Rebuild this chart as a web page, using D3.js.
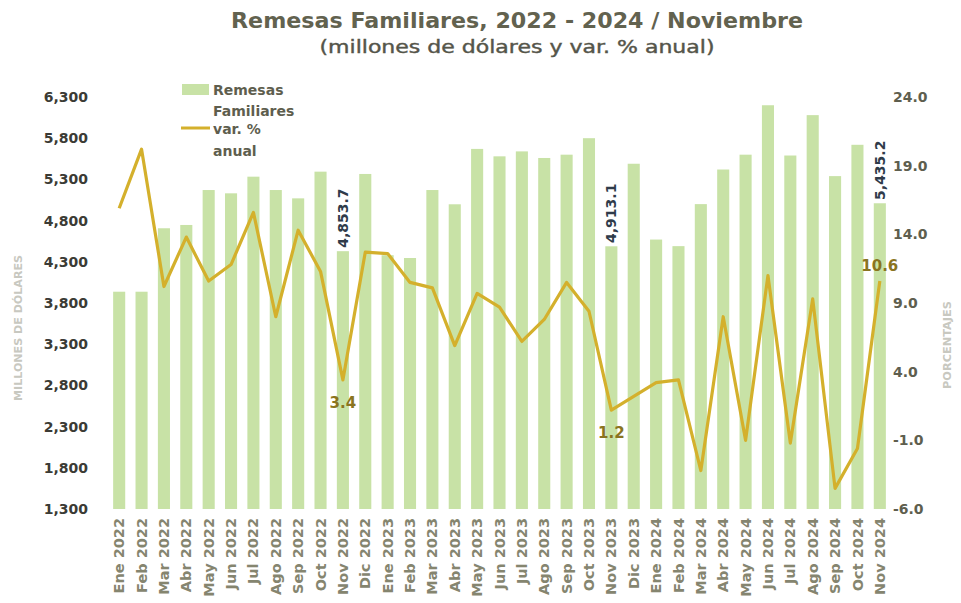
<!DOCTYPE html>
<html>
<head>
<meta charset="utf-8">
<script src="https://cdn.jsdelivr.net/npm/d3@7"></script>
<style>
	body { margin: 0; background: #fff; }
	text { font-family: "DejaVu Sans", sans-serif; }
</style>
</head>
<body>
<div id="chart"></div>
<script>
// months shown on the x axis
const months = ["Ene 2022","Feb 2022","Mar 2022","Abr 2022","May 2022","Jun 2022","Jul 2022","Ago 2022","Sep 2022","Oct 2022","Nov 2022","Dic 2022",
	"Ene 2023","Feb 2023","Mar 2023","Abr 2023","May 2023","Jun 2023","Jul 2023","Ago 2023","Sep 2023","Oct 2023","Nov 2023","Dic 2023",
	"Ene 2024","Feb 2024","Mar 2024","Abr 2024","May 2024","Jun 2024","Jul 2024","Ago 2024","Sep 2024","Oct 2024","Nov 2024"];

// remesas, millones de dolares
const remesas = [3937,3937,4707,4747,5171,5131,5333,5171,5070,5394,4853.7,5366,
	4380,4346,5171,4998,5670,5580,5640,5560,5600,5800,4913.1,5490,
	4570,4490,5000,5420,5600,6200,5590,6080,5340,5720,5435.2];

// var. % anual
const varAnual = [15.9,20.2,10.2,13.8,10.6,11.8,15.6,8.0,14.3,11.3,3.4,12.7,
	12.6,10.5,10.1,5.9,9.7,8.7,6.2,7.8,10.5,8.4,1.2,2.2,
	3.2,3.4,-3.2,8.0,-1.0,11.0,-1.2,9.3,-4.5,-1.6,10.6];

const leftTicks = [1300,1800,2300,2800,3300,3800,4300,4800,5300,5800,6300];
const rightTicks = [-6,-1,4,9,14,19,24];

// which points get value labels
const barLabelIdx = [10, 22, 34];
const lineLabelIdx = [10, 22, 34];

const width = 961, height = 603;
const barColor = "#c8e2a6";
const lineColor = "#d4b02c";
const inkColor = "#5e5e4e";

var svg = d3.select("#chart").append("svg")
	.attr("width", width)
	.attr("height", height);

var x = d3.scaleBand()
	.domain(months)
	.range([108, 891])
	.paddingInner(0.46)
	.paddingOuter(0.23);

var yLeft = d3.scaleLinear()
	.domain([1300, 6300])
	.range([509, 97]);

var yRight = d3.scaleLinear()
	.domain([-6, 24])
	.range([509, 97]);

// hyphen instead of unicode minus, like the original
const fmt1 = v => d3.format(".1f")(v).replace("−", "-");

// title
svg.append("text")
	.attr("x", 517).attr("y", 28)
	.attr("text-anchor", "middle")
	.attr("font-size", 21)
	.attr("font-weight", "bold")
	.attr("fill", "#62624f")
	.attr("textLength", 572)
	.attr("lengthAdjust", "spacingAndGlyphs")
	.text("Remesas Familiares, 2022 - 2024 / Noviembre");

svg.append("text")
	.attr("x", 517).attr("y", 53)
	.attr("text-anchor", "middle")
	.attr("font-size", 17)
	.attr("fill", "#55554a")
	.attr("stroke", "#55554a")
	.attr("stroke-width", 0.4)
	.attr("textLength", 395)
	.attr("lengthAdjust", "spacingAndGlyphs")
	.text("(millones de dólares y var. % anual)");

// bars
svg.append("g")
	.selectAll("rect")
	.data(remesas)
	.join("rect")
		.attr("x", (d, i) => x(months[i]))
		.attr("y", d => yLeft(d))
		.attr("width", x.bandwidth())
		.attr("height", d => yLeft(1300) - yLeft(d))
		.attr("fill", barColor);

// line
var line = d3.line()
	.x((d, i) => x(months[i]) + x.bandwidth() / 2)
	.y(d => yRight(d));

svg.append("path")
	.datum(varAnual)
	.attr("d", line)
	.attr("fill", "none")
	.attr("stroke", lineColor)
	.attr("stroke-width", 3.2)
	.attr("stroke-linejoin", "round");

// left axis
var axLeft = svg.append("g")
	.attr("transform", "translate(90,0)")
	.call(d3.axisLeft(yLeft).tickValues(leftTicks).tickSize(0).tickPadding(2).tickFormat(d3.format(",")));
axLeft.select(".domain").remove();
axLeft.selectAll("text")
	.attr("font-size", 14)
	.attr("font-weight", "bold")
	.attr("fill", "#3b3b35")
	.attr("font-family", "DejaVu Sans");

// right axis
var axRight = svg.append("g")
	.attr("transform", "translate(891,0)")
	.call(d3.axisRight(yRight).tickValues(rightTicks).tickSize(0).tickPadding(2).tickFormat(fmt1));
axRight.select(".domain").remove();
axRight.selectAll("text")
	.attr("font-size", 14)
	.attr("font-weight", "bold")
	.attr("fill", inkColor)
	.attr("font-family", "DejaVu Sans");

// x axis
var axBottom = svg.append("g")
	.attr("transform", "translate(0,512)")
	.call(d3.axisBottom(x).tickSize(0).tickPadding(0));
axBottom.select(".domain").remove();
axBottom.selectAll("text")
	.attr("transform", "rotate(-90)")
	.attr("text-anchor", "end")
	.attr("x", -6)
	.attr("y", 0)
	.attr("dy", "0.35em")
	.attr("font-size", 14.5)
	.attr("font-weight", "bold")
	.attr("fill", "#85856f")
	.attr("font-family", "DejaVu Sans");

// axis titles
svg.append("text")
	.attr("transform", "translate(22,328) rotate(-90)")
	.attr("text-anchor", "middle")
	.attr("font-size", 10)
	.attr("font-weight", "bold")
	.attr("fill", "#c8c8c0")
	.attr("textLength", 146)
	.attr("lengthAdjust", "spacingAndGlyphs")
	.text("MILLONES DE DÓLARES");

svg.append("text")
	.attr("transform", "translate(951,345) rotate(-90)")
	.attr("text-anchor", "middle")
	.attr("font-size", 10)
	.attr("font-weight", "bold")
	.attr("fill", "#c8c8c0")
	.attr("textLength", 88)
	.attr("lengthAdjust", "spacingAndGlyphs")
	.text("PORCENTAJES");

// bar value labels
var bl = svg.append("g")
	.selectAll("g")
	.data(barLabelIdx)
	.join("g")
		.attr("transform", i => `translate(${x(months[i]) + x.bandwidth() / 2},${yLeft(remesas[i]) + 2}) rotate(-90)`);
bl.append("rect")
	.attr("x", -33).attr("y", -9)
	.attr("width", 66).attr("height", 18)
	.attr("fill", "#fff");
bl.append("text")
	.attr("text-anchor", "middle")
	.attr("dy", "0.35em")
	.attr("font-size", 14)
	.attr("font-weight", "bold")
	.attr("fill", "#2f3b4a")
	.text(i => d3.format(",.1f")(remesas[i]));

// line value labels
svg.append("g")
	.selectAll("text")
	.data(lineLabelIdx)
	.join("text")
		.attr("x", i => x(months[i]) + x.bandwidth() / 2)
		.attr("y", i => varAnual[i] > 5 ? yRight(varAnual[i]) - 10 : yRight(varAnual[i]) + 28)
		.attr("text-anchor", "middle")
		.attr("font-size", 15)
		.attr("font-weight", "bold")
		.attr("fill", "#8a7420")
		.text(i => fmt1(varAnual[i]));

// legend
var lg = svg.append("g");
lg.append("rect")
	.attr("x", 182).attr("y", 84)
	.attr("width", 27).attr("height", 11)
	.attr("fill", barColor);
lg.append("line")
	.attr("x1", 181).attr("x2", 210)
	.attr("y1", 128).attr("y2", 128)
	.attr("stroke", lineColor)
	.attr("stroke-width", 3);
lg.selectAll("text")
	.data([["Remesas", 95], ["Familiares", 116], ["var. %", 134], ["anual", 156]])
	.join("text")
		.attr("x", 213)
		.attr("y", d => d[1])
		.attr("font-size", 14)
		.attr("font-weight", "bold")
		.attr("fill", inkColor)
		.text(d => d[0]);
</script>
</body>
</html>
